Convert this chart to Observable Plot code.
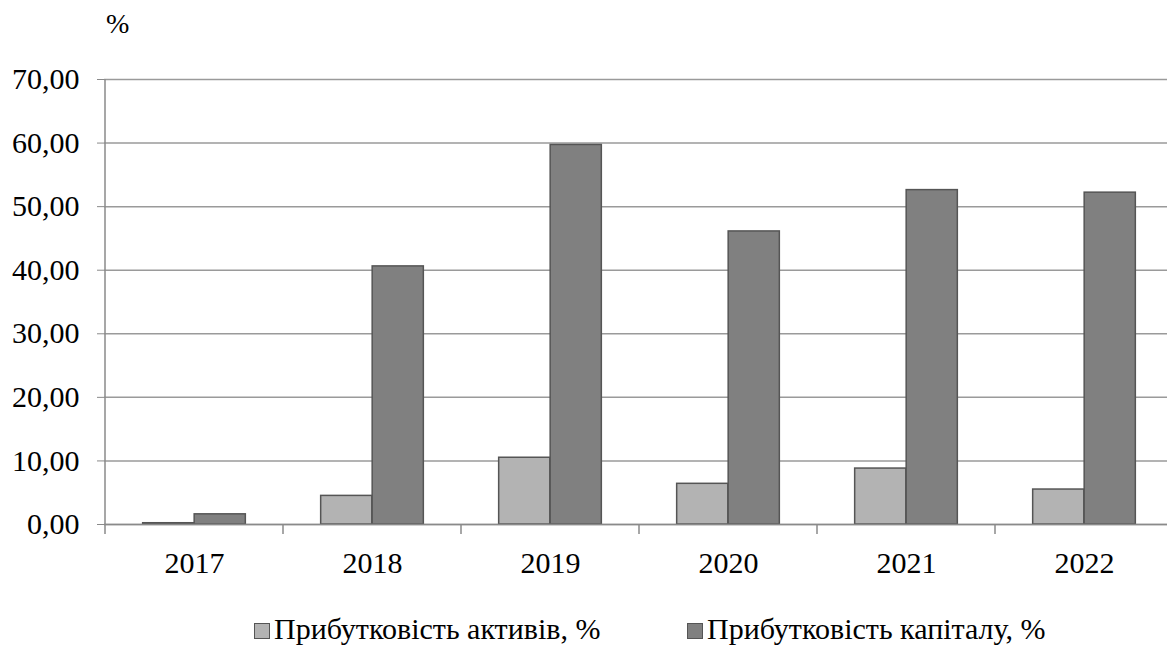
<!DOCTYPE html>
<html><head><meta charset="utf-8">
<script src="https://cdn.jsdelivr.net/npm/d3@7"></script>
<script src="https://cdn.jsdelivr.net/npm/@observablehq/plot@0.6"></script>
</head><body style="margin:0;background:#fff;font-family:'Liberation Serif',serif">
<div id="wrap" style="position:relative;width:1167px;height:646px;overflow:hidden;background:#fff;font-family:'Liberation Serif',serif"></div>
<script>
const years = ["2017","2018","2019","2020","2021","2022"];
const assets = [0.2, 4.5, 10.5, 6.4, 8.8, 5.5];
const capital = [1.6, 40.6, 59.7, 46.1, 52.6, 52.2];
const seriesNames = ["Прибутковість активів, %", "Прибутковість капіталу, %"];
const seriesColors = ["#b3b3b3", "#808080"];
const yTicks = [0, 10, 20, 30, 40, 50, 60, 70];
const unitLabel = "%";

const FONT = "'Liberation Serif', serif";
const W = 1167, H = 590, ML = 104, MR = -7, MT = 79, MB = 66;
const band = (W - ML - MR) / years.length;
const barW = 51.5;
const outer = (band - 2 * barW) / 2;

const rowsA = years.map((y, i) => ({year: y, series: seriesNames[0], value: assets[i]}));
const rowsC = years.map((y, i) => ({year: y, series: seriesNames[1], value: capital[i]}));
const fmt = d => d.toFixed(2).replace(".", ",");

const plot = Plot.plot({
  width: W, height: H,
  marginLeft: ML, marginRight: MR, marginTop: MT, marginBottom: MB,
  style: {fontFamily: FONT, fontSize: "30px", color: "#000", background: "transparent", overflow: "hidden"},
  x: {type: "band", domain: years, padding: 0},
  y: {domain: [0, 70]},
  marks: [
    Plot.gridY({ticks: yTicks, stroke: "#9a9a9a", strokeOpacity: 1, strokeWidth: 1.5}),
    Plot.barY(rowsA, {x: "year", y: "value", fill: seriesColors[0], stroke: "#555", strokeWidth: 1.5, insetLeft: outer, insetRight: outer + barW}),
    Plot.barY(rowsC, {x: "year", y: "value", fill: seriesColors[1], stroke: "#555", strokeWidth: 1.5, insetLeft: outer + barW, insetRight: outer}),
    Plot.ruleY([0], {stroke: "#8a8a8a", strokeWidth: 1.5}),
    Plot.axisY({ticks: yTicks, tickSize: 7, tickPadding: 18, tickFormat: fmt, stroke: "#8a8a8a", fill: "#000", label: null, fontFamily: FONT}),
    Plot.axisX({tickSize: 0, tickPadding: 27, fill: "#000", label: null, fontFamily: FONT})
  ]
});
plot.setAttribute("font-family", FONT);

const xs = plot.scale("x"), ys = plot.scale("y");
const svg = d3.select(plot);
svg.selectAll("text").attr("font-family", FONT);
const g = svg.append("g").attr("stroke", "#8a8a8a").attr("stroke-width", 1.5);
const y0 = ys.apply(0), yTop = ys.apply(70);
const bounds = years.map(yr => xs.apply(yr)).concat([xs.apply(years[years.length - 1]) + xs.bandwidth]);
bounds.forEach(b => g.append("line").attr("x1", b).attr("x2", b).attr("y1", y0).attr("y2", y0 + 10));
g.append("line").attr("x1", bounds[0]).attr("x2", bounds[0]).attr("y1", yTop).attr("y2", y0);

const wrap = document.getElementById("wrap");
plot.style.position = "absolute"; plot.style.left = "0"; plot.style.top = "0";
wrap.appendChild(plot);

const unit = document.createElement("div");
unit.textContent = unitLabel;
unit.style.cssText = "position:absolute;left:106px;top:7px;font-size:28px;line-height:34px;color:#000;font-family:" + FONT + ";z-index:2";
wrap.appendChild(unit);

const legLeft = [254, 687];
seriesNames.forEach((name, i) => {
  const d = document.createElement("div");
  d.style.cssText = "position:absolute;top:611px;display:flex;align-items:center;font-size:30px;color:#000;line-height:36px;white-space:nowrap;z-index:2;font-family:" + FONT + ";left:" + legLeft[i] + "px";
  const s = document.createElement("div");
  s.style.cssText = "width:14px;height:14px;border:1px solid #555;margin-right:4px;margin-top:4px;background:" + seriesColors[i];
  const t = document.createElement("span");
  t.textContent = name;
  t.style.fontFamily = FONT;
  d.appendChild(s); d.appendChild(t);
  wrap.appendChild(d);
});
</script></body></html>
